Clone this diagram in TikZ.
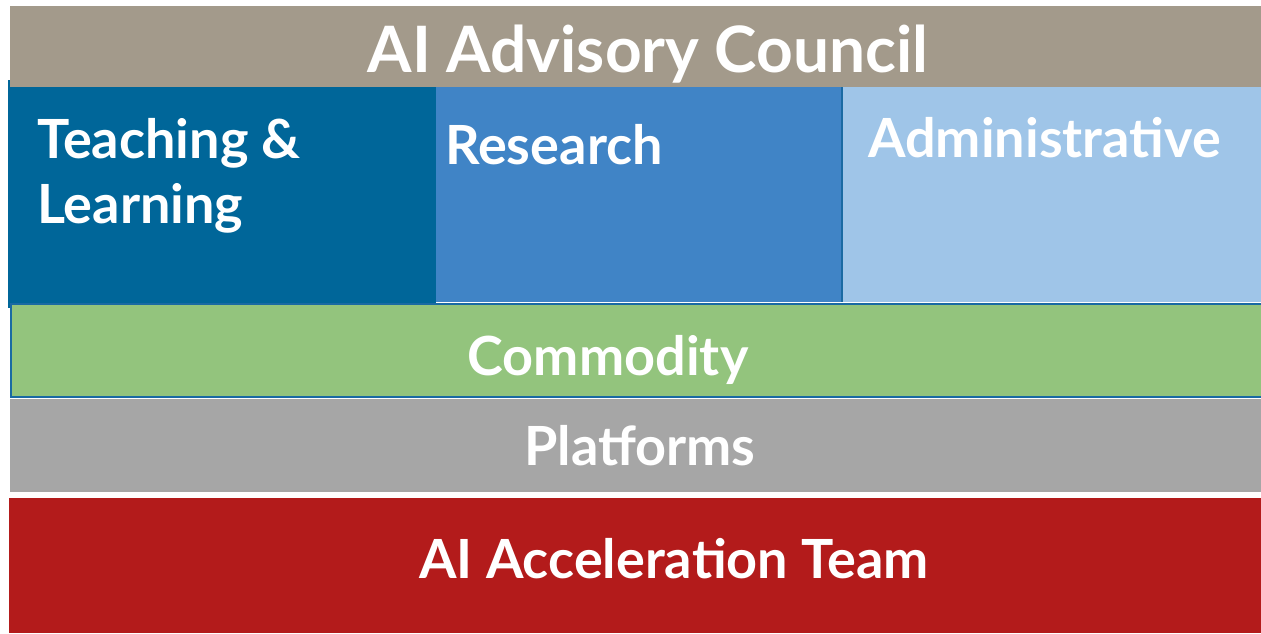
\documentclass[tikz,border=0pt]{standalone}
\usepackage{fontspec}
\setmainfont{Lato}
\newlength{\du}
\setlength{\du}{1pt}
\definecolor{councilcolor}{rgb}{0.639216, 0.603922, 0.545098}
\definecolor{teachcolor}{rgb}{0.000000, 0.400000, 0.600000}
\definecolor{researchcolor}{rgb}{0.250980, 0.517647, 0.776471}
\definecolor{admincolor}{rgb}{0.623529, 0.772549, 0.909804}
\definecolor{commoditycolor}{rgb}{0.576471, 0.768627, 0.490196}
\definecolor{platformcolor}{rgb}{0.650980, 0.650980, 0.650980}
\definecolor{teamcolor}{rgb}{0.701961, 0.105882, 0.105882}
\definecolor{edgecolor}{rgb}{0.101961, 0.415686, 0.639216}
\tikzset{
  label/.style={text=white, inner sep=0pt, font=\bfseries\fontsize{54}{66}\selectfont},
  biglabel/.style={label, font=\bfseries\fontsize{64}{80}\selectfont}
}
\begin{document}
\begin{tikzpicture}[yscale=-1]
\useasboundingbox (0\du,0\du) rectangle (1261\du,633\du);
% unit rows
\fill[teachcolor] (8\du,80\du) rectangle (436\du,308\du);
\fill[researchcolor] (436\du,87\du) rectangle (841\du,302\du);
\fill[admincolor] (843\du,87\du) rectangle (1261\du,302\du);
\draw[edgecolor, line width=2\du] (842\du,87\du) -- (842\du,302\du);
% council on top
\fill[councilcolor] (10\du,6\du) rectangle (1261\du,87\du);
% lower layers
\filldraw[fill=commoditycolor, draw=edgecolor, line width=2\du] (11\du,304\du) rectangle (1262\du,397\du);
\fill[platformcolor] (10\du,399\du) rectangle (1261\du,492\du);
\fill[teamcolor] (9\du,498\du) rectangle (1261\du,633\du);
% labels
\node[biglabel, anchor=base] (council) at (648\du,72\du) {AI Advisory Council};
\node[label, anchor=base west] (teach) at (37\du,158\du) {Teaching \&};
\node[label, anchor=base west] (learn) at (37\du,223\du) {Learning};
\node[label, anchor=base west] (research) at (445\du,164\du) {Research};
\node[label, anchor=base west] (admin) at (868\du,157\du) {Administrative};
\node[label, anchor=base] (commodity) at (608\du,375\du) {Commodity};
\node[label, anchor=base] (platforms) at (640\du,465\du) {Platforms};
\node[label, anchor=base] (team) at (674\du,578\du) {AI Acceleration Team};
\end{tikzpicture}
\end{document}
